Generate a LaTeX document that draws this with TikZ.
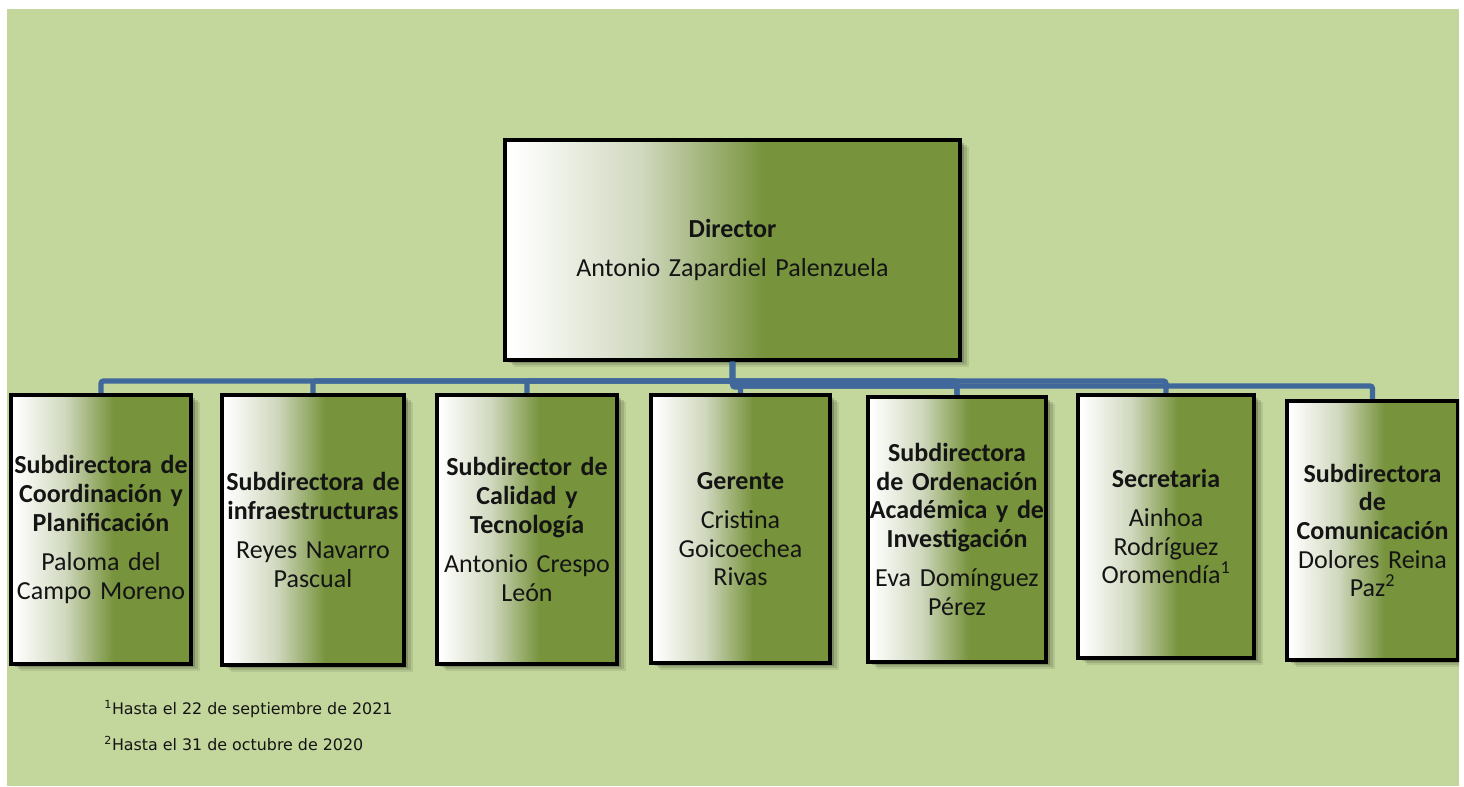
\documentclass[tikz,border=0pt]{standalone}
\usepackage{fontspec}
\setmainfont{Carlito}
\newfontfamily\fnfont{DejaVu Sans}
\usetikzlibrary{shadows}
\definecolor{bgg}{RGB}{195,214,155}
\definecolor{ob}{RGB}{119,147,60}
\definecolor{obl}{RGB}{208,216,190}
\definecolor{cblue}{RGB}{64,104,155}
\definecolor{txt}{RGB}{20,20,20}
\pgfdeclarehorizontalshading{boxgrad}{100bp}{color(0bp)=(white); color(26bp)=(white); color(40bp)=(obl); color(53.5bp)=(ob); color(100bp)=(ob)}
\tikzset{
  obox/.style={draw=black, line width=3pt, shade, shading=boxgrad, inner sep=0pt, align=center,
    font=\fontsize{19.5}{21.5}\selectfont, text=txt,
    general shadow={shadow xshift=7pt, shadow yshift=-5pt, shadow scale=1, fill=black, opacity=0.08},
    general shadow={shadow xshift=5pt, shadow yshift=-4pt, shadow scale=1, fill=black, opacity=0.12},
    general shadow={shadow xshift=3pt, shadow yshift=-2.5pt, shadow scale=1, fill=black, opacity=0.18}},
  conn/.style={draw=cblue, line width=4pt, rounded corners=2pt},
  fn/.style={font=\fnfont\fontsize{11.9}{13}\selectfont, inner sep=0pt, text=txt, anchor=base west}
}
\begin{document}
\begin{tikzpicture}[x=0.75pt,y=-0.75pt]
\useasboundingbox (0,0) rectangle (1464,787);
\fill[bgg] (7,9) rectangle (1459,786);
\begin{scope}
\clip (7,9) rectangle (1459,786);
\node[obox, minimum width=341.25pt, minimum height=165pt, text width=341.25pt] (dir) at (732.5,250)
  {\bfseries Director\\[8pt]\mdseries Antonio Zapardiel Palenzuela};
\node[obox, minimum width=135pt, minimum height=201.75pt, text width=135pt] (c1) at (101,529.5)
  {\bfseries Subdirectora de\\Coordinación y\\Planificación\\[8pt]\mdseries Paloma del\\Campo Moreno};
\node[obox, minimum width=136.5pt, minimum height=202.5pt, text width=136.5pt] (c2) at (313,530)
  {\bfseries Subdirectora de\\infraestructuras\\[8pt]\mdseries Reyes Navarro\\Pascual};
\node[obox, minimum width=135pt, minimum height=201.75pt, text width=135pt] (c3) at (527,529.5)
  {\bfseries Subdirector de\\Calidad y\\Tecnología\\[8pt]\mdseries Antonio Crespo\\León};
\node[obox, minimum width=134.25pt, minimum height=201pt, text width=134.25pt] (c4) at (740.5,529)
  {\bfseries Gerente\\[8pt]\mdseries Cristina\\Goicoechea\\Rivas};
\node[obox, minimum width=133.5pt, minimum height=198.75pt, text width=133.5pt] (c5) at (957,529.5)
  {\bfseries Subdirectora\\de Ordenación\\Académica y de\\Investigación\\[8pt]\mdseries Eva Domínguez\\Pérez};
\node[obox, minimum width=132pt, minimum height=197.25pt, text width=132pt] (c6) at (1166,526.5)
  {\bfseries Secretaria\\[8pt]\mdseries Ainhoa\\Rodríguez\\Oromendía\textsuperscript{1}};
\node[obox, minimum width=128.25pt, minimum height=194.25pt, text width=128.25pt] (c7) at (1372.5,530.5)
  {\bfseries Subdirectora\\de\\Comunicación\\\mdseries Dolores Reina\\Paz\textsuperscript{2}};
\end{scope}
\draw[conn] (dir.south) -- ++(0,19) -| (c1.north);
\draw[conn] (dir.south) -- ++(0,19) -| (c2.north);
\draw[conn] (dir.south) -- ++(0,19) -| (c3.north);
\draw[conn] (dir.south) -- ++(0,25) -| (c4.north);
\draw[conn] (dir.south) -- ++(0,19) -| (c5.north);
\draw[conn] (dir.south) -- ++(0,19) -| (c6.north);
\draw[conn] (dir.south) -- ++(0,24) -| (c5.north);
\draw[conn] (dir.south) -- ++(0,24) -| (c7.north);
\node[fn] (f1) at (104,714) {\textsuperscript{1}Hasta el 22 de septiembre de 2021};
\node[fn] (f2) at (104,750) {\textsuperscript{2}Hasta el 31 de octubre de 2020};
\end{tikzpicture}
\end{document}
